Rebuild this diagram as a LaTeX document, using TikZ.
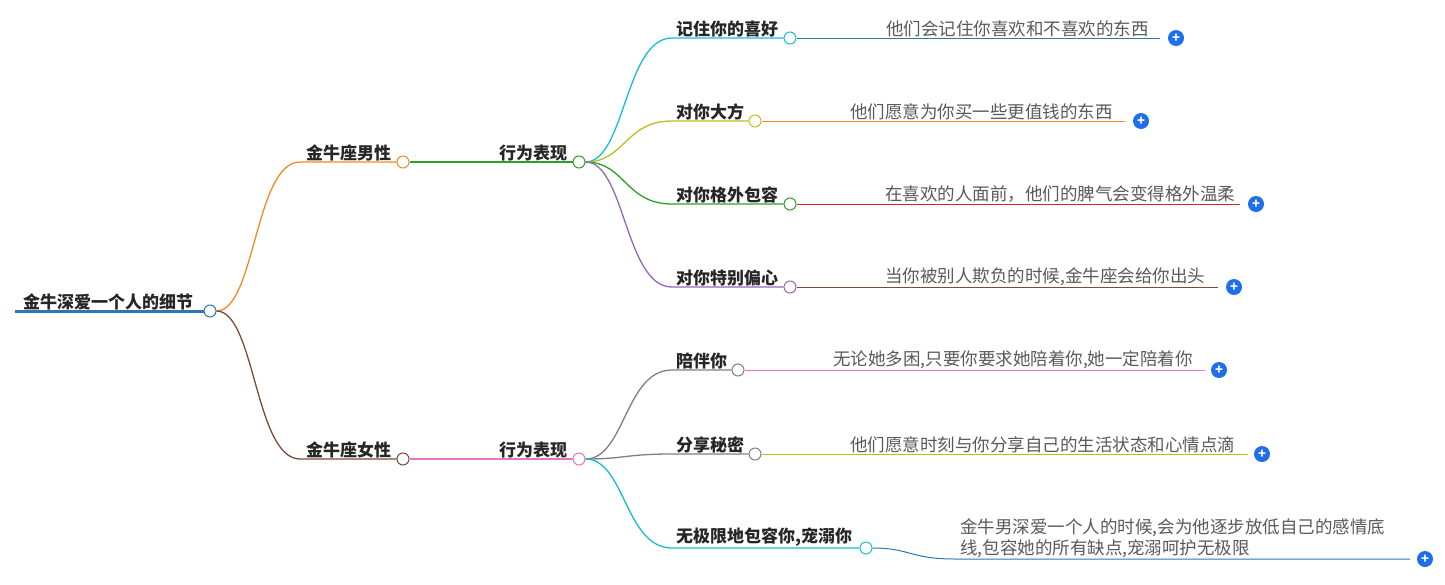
\documentclass[tikz,border=0pt]{standalone}
\usepackage{fontspec}
\setmainfont{Noto Sans CJK SC}
\usetikzlibrary{positioning}
\definecolor{rootblue}{HTML}{2E75B6}
\definecolor{orangeb}{HTML}{F08A24}
\definecolor{brownb}{HTML}{7B4B3A}
\definecolor{greenb}{HTML}{2CA02C}
\definecolor{pinkb}{HTML}{E377C2}
\definecolor{cyanb}{HTML}{17BECF}
\definecolor{oliveb}{HTML}{BCBD22}
\definecolor{purpleb}{HTML}{9467BD}
\definecolor{redb}{HTML}{D62728}
\definecolor{grayb}{HTML}{7F7F7F}
\definecolor{plusblue}{HTML}{1F6FEB}
\tikzset{
  topic/.style={anchor=south west, inner sep=1pt, font=\fontsize{17}{20}\selectfont\bfseries, text=black!85},
  detail/.style={anchor=south west, inner sep=1pt, font=\fontsize{17.5}{21}\selectfont, text=black!65, align=left},
  knob/.style={circle, draw=#1, fill=white, line width=1pt, minimum size=12pt, inner sep=0pt},
  plus/.style={circle, fill=plusblue, text=white, minimum size=16pt, inner sep=0pt, font=\bfseries\fontsize{13}{13}\selectfont},
  link/.style={line width=1.3pt, draw=#1}
}
\begin{document}
\begin{tikzpicture}[x=1pt,y=-1pt]
\useasboundingbox (0,0) rectangle (1445,584);
% root
\coordinate (root-start) at (15,311);
\node (root) at (210,311)[knob=rootblue] {};
\node (root-label) at (22,311)[topic] {金牛深爱一个人的细节};
\draw[rootblue, line width=3pt] (root-start) -- (root);
% male side
\node (male) at (403,162)[knob=orangeb] {};
\coordinate (male-start) at (300,162);
\node (male-label) at (305,162)[topic] {金牛座男性};
\draw[link=orangeb] (root) .. controls (255,311) and (255,162) .. (male-start) -- (male);
\node (male-act) at (579,162)[knob=greenb] {};
\node (male-act-label) at (498,162)[topic] {行为表现};
\draw[link=greenb] (male) -- (male-act);
% female side
\node (female) at (403,459)[knob=brownb] {};
\coordinate (female-start) at (300,459);
\node (female-label) at (305,459)[topic] {金牛座女性};
\draw[link=brownb] (root) .. controls (255,311) and (255,459) .. (female-start) -- (female);
\node (female-act) at (579,459)[knob=pinkb] {};
\node (female-act-label) at (498,459)[topic] {行为表现};
\draw[link=pinkb] (female) -- (female-act);
% male leaves
\foreach \name/\y/\cx/\col/\lcol/\txt/\dx/\ex/\detailtxt in {
  like/38/790/cyanb/rootblue/{记住你的喜好}/888/1160/{他们会记住你喜欢和不喜欢的东西},
  generous/121/755/oliveb/orangeb/{对你大方}/852/1125/{他们愿意为你买一些更值钱的东西},
  tolerant/204/790/greenb/redb/{对你格外包容}/887/1240/{在喜欢的人面前，他们的脾气会变得格外温柔},
  partial/287/790/purpleb/brownb/{对你特别偏心}/887/1218/{当你被别人欺负的时候,金牛座会给你出头}}{
  \node (\name) at (\cx,\y)[knob=\col] {};
  \coordinate (\name-start) at (672,\y);
  \node (\name-label) at (675,\y)[topic] {\txt};
  \draw[link=\col] (male-act) .. controls (625,162) and (625,\y) .. (\name-start) -- (\name);
  \coordinate (\name-end) at (\ex,\y);
  \node (\name-detail) at (\dx-3,\y)[detail] {\detailtxt};
  \draw[link=\lcol, line width=1pt] (\name) -- (\name-end);
  \node (\name-plus) at (\ex+16,\y)[plus] {+};
}
% female leaves
\foreach \name/\y/\cx/\col/\lcol/\txt/\dx/\ex/\detailtxt in {
  company/370/738/grayb/pinkb/{陪伴你}/835/1205/{无论她多困,只要你要求她陪着你,她一定陪着你},
  secret/454/755/grayb/oliveb/{分享秘密}/852/1248/{他们愿意时刻与你分享自己的生活状态和心情点滴}}{
  \node (\name) at (\cx,\y)[knob=\col] {};
  \coordinate (\name-start) at (672,\y);
  \node (\name-label) at (675,\y)[topic] {\txt};
  \draw[link=\col] (female-act) .. controls (625,459) and (625,\y) .. (\name-start) -- (\name);
  \coordinate (\name-end) at (\ex,\y);
  \node (\name-detail) at (\dx-3,\y)[detail] {\detailtxt};
  \draw[link=\lcol, line width=1pt] (\name) -- (\name-end);
  \node (\name-plus) at (\ex+14,\y)[plus] {+};
}
\node (spoil) at (866,548)[knob=cyanb] {};
\coordinate (spoil-start) at (672,548);
\node (spoil-label) at (675,548)[topic] {无极限地包容你,宠溺你};
\draw[link=cyanb] (female-act) .. controls (625,459) and (625,548) .. (spoil-start) -- (spoil);
\coordinate (spoil-end) at (1410,559);
\node (spoil-detail) at (959,559)[detail] {金牛男深爱一个人的时候,会为他逐步放低自己的感情底\\线,包容她的所有缺点,宠溺呵护无极限};
\draw[link=rootblue, line width=1pt] (spoil) .. controls (910,548) and (910,559) .. (955,559) -- (spoil-end);
\node (spoil-plus) at (1425,559)[plus] {+};
\end{tikzpicture}
\end{document}
